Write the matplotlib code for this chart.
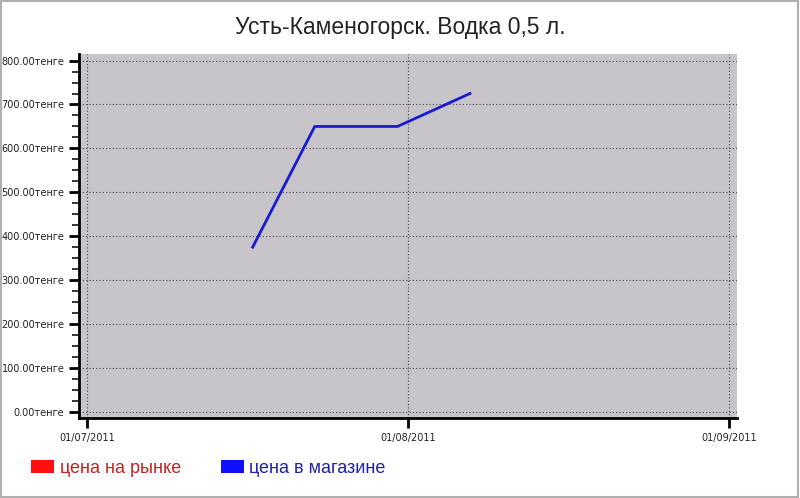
import matplotlib
matplotlib.use("Agg")
import matplotlib.pyplot as plt
import matplotlib.dates as mdates
from matplotlib.patches import Patch, Rectangle
from matplotlib.ticker import MultipleLocator, FuncFormatter
from datetime import datetime, timedelta

# shop price of vodka 0.5 l
dates = ["2011-07-17", "2011-07-23", "2011-07-31", "2011-08-07"]
shop_prices = [375, 650, 650, 725]
date_ticks = ["2011-07-01", "2011-08-01", "2011-09-01"]
legend_labels = ["цена на рынке", "цена в магазине"]

plt.rcParams['font.family'] = ['DejaVu Sans']

fig = plt.figure(figsize=(8, 4.98), dpi=100)
ax = fig.add_axes([79 / 800, (498 - 418) / 498, (737 - 79) / 800, (418 - 54) / 498])
ax.set_facecolor("#c7c5c9")

x = [datetime.strptime(d, "%Y-%m-%d") for d in dates]
ax.plot(x, shop_prices, color="#1a1ad0", lw=2)

xt = [datetime.strptime(d, "%Y-%m-%d") for d in date_ticks]
ax.set_xlim(xt[0] - timedelta(days=0.78), xt[-1] + timedelta(days=0.8))
ax.set_ylim(-14, 815)
ax.set_xticks(xt)
ax.xaxis.set_major_formatter(mdates.DateFormatter("%d/%m/%Y"))
ax.yaxis.set_major_locator(MultipleLocator(100))
ax.yaxis.set_minor_locator(MultipleLocator(25))
ax.yaxis.set_major_formatter(FuncFormatter(lambda v, p: f"{v:.2f}тенге"))

ax.grid(True, which="major", color="#444444", linestyle=(0, (1, 2)), lw=0.8)
ax.tick_params(axis="both", which="major", labelsize=7, length=7, width=2, color="black", labelcolor="#222222")
ax.tick_params(axis="y", which="minor", length=5, width=1.1, color="black")
ax.tick_params(axis="x", pad=4)

for s in ["top", "right"]:
    ax.spines[s].set_visible(False)
for s in ["left", "bottom"]:
    ax.spines[s].set_linewidth(2)
    ax.spines[s].set_color("black")

fig.text(0.5, 0.945, "Усть-Каменогорск. Водка 0,5 л.", ha="center", va="center",
         fontsize=16.5, color="#222222", family="Liberation Sans")

handles = [Patch(facecolor="#ff1010", edgecolor="none"), Patch(facecolor="#1010ff", edgecolor="none")]
leg = fig.legend(handles, legend_labels, loc="center left", bbox_to_anchor=(0.018, 0.06),
                 ncol=2, frameon=False, prop={"family": "Liberation Sans", "size": 13},
                 handlelength=1.3, handleheight=0.8, handletextpad=0.3, columnspacing=2.2)
leg.get_texts()[0].set_color("#cc2020")
leg.get_texts()[1].set_color("#2020a8")

fig.add_artist(Rectangle((0.001, 0.002), 0.997, 0.996, transform=fig.transFigure,
                         fill=False, edgecolor="#b0b0b0", lw=1.5))

fig.savefig("out.png", dpi=100)
